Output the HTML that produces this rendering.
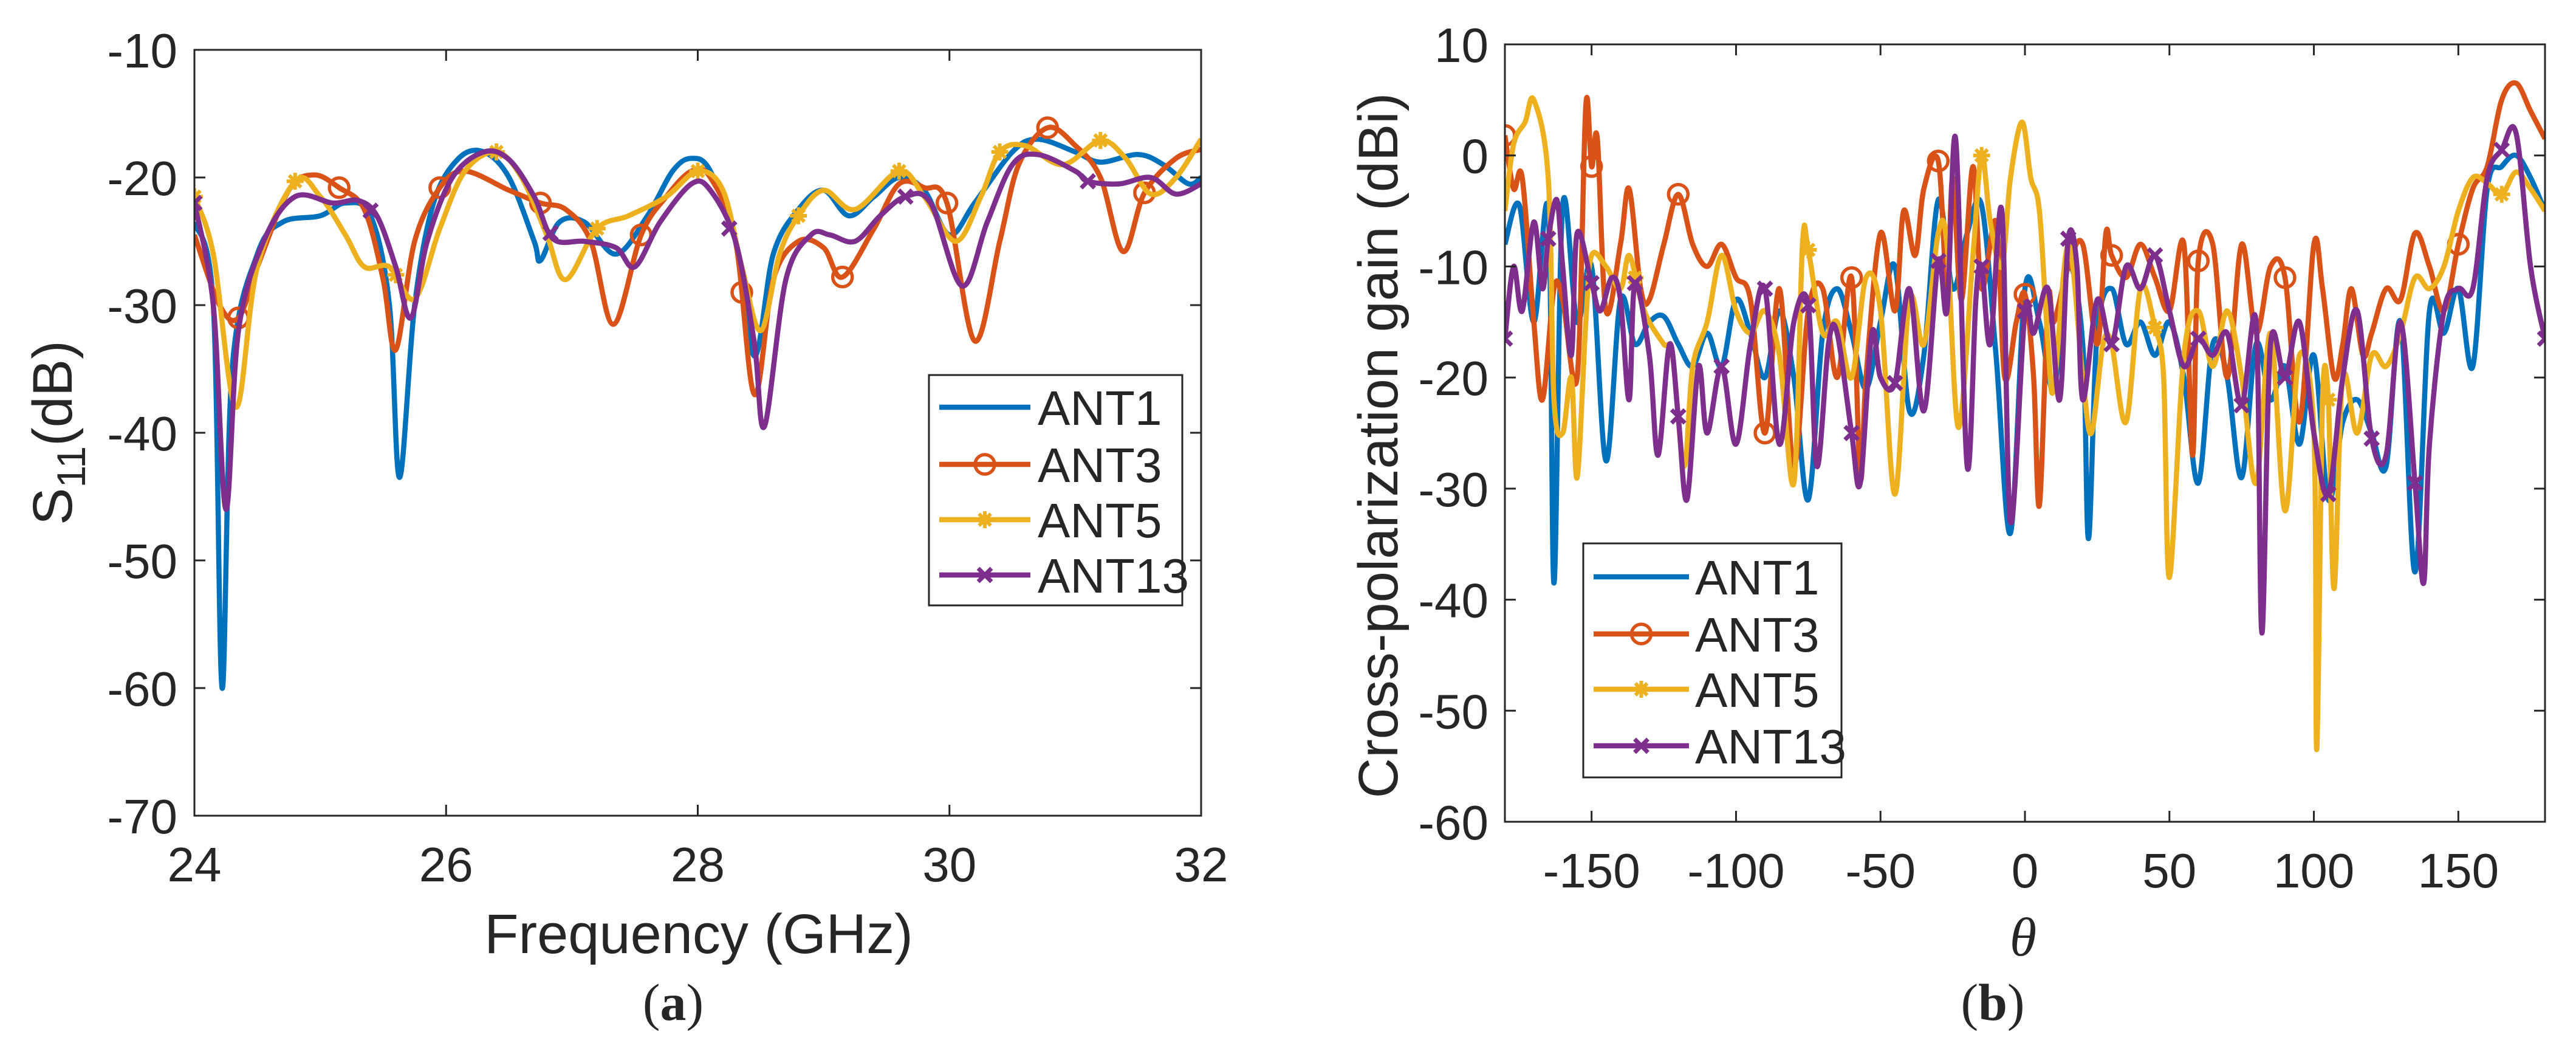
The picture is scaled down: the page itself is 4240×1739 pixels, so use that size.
<!DOCTYPE html>
<html><head><meta charset="utf-8"><style>
html,body{margin:0;padding:0;background:#fff;}
svg{display:block;}
text{font-family:"Liberation Sans",sans-serif;fill:#262626;}
</style></head><body>
<svg id="fig" width="4240" height="1739" viewBox="0 0 4240 1739" xmlns="http://www.w3.org/2000/svg">
<rect width="4240" height="1739" fill="#fff"/>
<g id="chartA"></g>
<g id="chartB"></g>
</svg>
<script>
// ---------- Chart A data ----------
const freqTicks = [24,26,28,30,32];
const s11Ticks = [-10,-20,-30,-40,-50,-60,-70];
const a1x = [24,24.15,24.22,24.3,24.5,24.7,25.0,25.2,25.4,25.55,25.63,25.75,25.9,26.1,26.3,26.5,26.7,26.75,26.9,27.1,27.35,27.6,27.8,27.95,28.1,28.3,28.45,28.6,28.8,29.0,29.2,29.4,29.6,29.8,30.0,30.2,30.5,30.7,31.0,31.2,31.5,31.7,31.9,32];
const a1y = [-23.5,-30,-60,-35,-26,-23.5,-23,-22,-23,-30,-43.5,-30,-22,-18.5,-18,-20,-25,-26.5,-23.5,-23.5,-26,-23,-19.5,-18.5,-19.5,-25,-34,-26,-22.5,-21,-23,-21.5,-20,-21,-24.5,-22,-18,-17,-18,-18.8,-18.2,-19,-20.5,-20];
const a3x = [24,24.2,24.35,24.5,24.75,24.95,25.15,25.35,25.5,25.6,25.75,25.95,26.15,26.5,26.75,26.95,27.15,27.33,27.55,27.75,27.95,28.1,28.3,28.45,28.6,28.8,29.0,29.15,29.4,29.6,29.8,29.98,30.2,30.4,30.55,30.78,31.0,31.2,31.38,31.55,31.8,32];
const a3y = [-24.5,-30,-31,-27,-21,-19.8,-20.8,-22.5,-28,-33.5,-25,-20.8,-19.5,-21,-22,-22.5,-25,-31.5,-24.5,-21.5,-19.5,-20,-25,-37,-28,-25,-25.5,-27.8,-24,-20.5,-20.8,-22,-32.8,-25,-19,-16.1,-17.5,-20,-25.8,-21.2,-18.5,-17.8];
const a5x = [24,24.15,24.33,24.5,24.8,25.0,25.2,25.35,25.55,25.75,25.95,26.15,26.4,26.6,26.8,26.95,27.2,27.45,27.75,28.0,28.2,28.35,28.5,28.65,28.8,29.0,29.25,29.6,29.8,30.05,30.25,30.4,30.6,30.9,31.2,31.4,31.6,31.8,32];
const a5y = [-21.5,-26,-38,-27,-20.3,-21.5,-24.5,-27,-27,-29.5,-24,-19.5,-18,-20,-24.5,-28,-24,-23,-21.5,-19.5,-21,-27,-32,-26,-23,-21,-22.5,-19.5,-21.5,-25,-21.5,-18,-17.5,-19,-17.1,-18.5,-21.3,-20,-17];
const a13x = [24,24.15,24.25,24.35,24.55,24.8,25.1,25.3,25.45,25.6,25.72,25.85,26.05,26.3,26.5,26.7,26.85,27.1,27.35,27.5,27.7,27.95,28.1,28.3,28.45,28.53,28.7,28.9,29.05,29.25,29.45,29.65,29.85,30.1,30.3,30.5,30.7,31.0,31.1,31.35,31.6,31.8,32];
const a13y = [-22,-30,-46,-32,-25,-21.5,-22,-21.8,-23,-27,-31,-25,-20,-18,-18.6,-21.5,-24.8,-25,-25.5,-27,-23.5,-20.5,-21,-25,-33,-39.5,-28,-24.5,-24.5,-25,-23,-21.5,-22,-28.5,-23.5,-19,-18.2,-19.5,-20.3,-20.5,-20,-21.3,-20.5];
const a3mk = [24.35,25.15,25.95,26.75,27.55,28.35,29.15,29.98,30.78,31.55];
const a5mk = [24,24.8,25.6,26.4,27.2,28.0,28.8,29.6,30.4,31.2];
const a13mk = [24,25.4,26.83,28.25,29.65,31.1];

// ---------- Chart B data ----------
const thetaTicks = [-150,-100,-50,0,50,100,150];
const gainTicks = [10,0,-10,-20,-30,-40,-50,-60];
const b1x = [-180,-175,-170,-165,-163,-160,-155,-150,-145,-140,-135,-130,-125,-120,-115,-110,-105,-100,-95,-90,-85,-80,-75,-70,-65,-60,-55,-50,-45,-40,-35,-30,-25,-20,-15,-10,-5,0,5,10,15,20,22,25,30,35,40,45,50,55,60,65,70,75,80,85,90,95,100,105,110,115,120,125,130,135,140,145,150,155,160,165,170,175,180];
const b1y = [-8,-4.5,-15,-5,-38.5,-4.5,-15,-10,-27.5,-13,-17,-15,-14.5,-17,-19,-16,-19,-13,-16,-20,-14,-20,-31,-16,-12,-16,-21,-15,-10,-23,-18,-4,-12,-7,-4.5,-18,-34,-12,-15,-21,-10,-17,-34.5,-16,-12,-17,-15,-18,-15,-20,-29.5,-17,-20,-29,-17,-22,-19,-26,-18,-31,-24,-22,-25,-28,-15,-37.5,-14,-16,-12,-19,-3,-1,0,-2,-5];
const b3x = [-180,-177,-174,-170,-167,-163,-160,-155,-152,-150,-148,-145,-140,-137,-133,-130,-125,-120,-115,-110,-105,-100,-95,-90,-85,-80,-75,-70,-65,-60,-57,-55,-50,-45,-42,-38,-35,-30,-27,-25,-22,-18,-15,-10,-7,-3,0,3,5,8,10,15,20,25,28,30,35,40,45,50,55,58,60,65,70,75,80,85,90,95,100,103,107,110,113,117,120,125,130,135,140,145,150,155,160,165,170,175,180];
const b3y = [1.8,-3,-2,-15,-22,-12,-13,-20,4.5,-1,1.5,-14,-8,-3,-12,-13,-8,-3.5,-8,-10,-8,-11,-13,-25,-12,-28,-14,-12,-20,-11,-29,-20,-7,-14,-5,-9,-3,-0.5,-12,-2,-13,-1,-12,-6,-20,-15,-12.5,-20,-31.5,-13,-15,-10,-8,-17,-7,-9,-11,-8,-11,-14,-8,-27,-9.5,-8,-20,-8,-16,-10,-11,-24,-8,-12,-20,-17,-12,-18,-16,-12,-13,-7,-10,-14,-8,-3,-1,5,6.5,4,1.5];
const b5x = [-180,-177,-173,-170,-165,-163,-160,-157,-155,-152,-150,-145,-140,-137,-133,-130,-125,-122,-118,-115,-110,-105,-100,-95,-90,-85,-80,-77,-75,-70,-65,-60,-55,-50,-45,-40,-35,-30,-27,-23,-18,-15,-12,-8,-5,-1,2,5,8,10,15,20,23,27,30,35,40,45,48,50,55,60,65,70,75,80,85,90,95,100,101,103,105,107,110,115,120,125,130,135,140,145,150,155,160,165,170,175,180];
const b5y = [-5,1,3,5,-2,-22,-25,-20,-29,-15,-9,-10,-12,-9,-13,-15,-17,-18,-28,-19,-15,-9,-14,-16,-14,-18,-29.5,-8,-8.5,-16,-15,-20,-11,-14,-30.5,-13,-17,-7,-8,-24.5,-9,0,-6,-10,-2,3,-2,-5,-17,-21,-8,-20,-25,-17,-17,-24,-12,-15.5,-20,-38,-18,-14,-19,-14,-20,-29.5,-16,-32,-18,-25,-53.5,-22,-22,-39,-20,-25,-18,-19,-16,-11,-12,-10,-5,-2,-2.5,-3.5,-1.5,-3,-5];
const b13x = [-180,-177,-174,-170,-167,-165,-162,-160,-157,-155,-150,-147,-143,-140,-137,-135,-130,-127,-123,-120,-117,-113,-110,-105,-100,-95,-90,-85,-80,-75,-72,-68,-65,-60,-57,-53,-50,-45,-40,-35,-30,-27,-24,-20,-17,-15,-12,-8,-5,0,3,8,12,15,18,20,25,30,35,40,45,50,55,60,65,70,75,80,82,85,90,95,100,105,110,115,120,125,130,135,138,140,145,150,155,160,165,170,175,180];
const b13y = [-16.5,-10,-14,-6,-12,-7.5,-4,-10,-18,-7,-11.5,-14,-11,-13,-22,-11.5,-18,-27,-17,-23.5,-31,-19,-25,-19,-26,-17,-12,-26,-15,-13.5,-28,-17,-16,-25,-29.5,-16,-20,-20.5,-12,-23,-9.5,-14,1.5,-28,-13,-10,-17,-5,-33,-14,-16,-12,-22,-7.5,-10,-22,-13,-17,-10,-12,-9,-14,-19,-16.5,-18,-16,-22.5,-15,-43,-17,-20,-15,-25,-30.5,-20,-14,-25.5,-27,-15,-29.5,-38.5,-26,-14,-12,-12,-2,0.5,2,-10,-16.5];
const b3mk = [-180,-150,-120,-90,-60,-30,0,30,60,90,150];
const b5mk = [-135,-75,-15,45,105,165];
const b13mk = [-180,-165,-150,-135,-120,-105,-90,-75,-60,-45,-30,-15,0,15,30,45,60,75,90,105,120,135,165,180];

const NS = 'http://www.w3.org/2000/svg';
const C = {b:'#0072BD',o:'#D95319',y:'#EDB120',p:'#7E2F8E'};
function mk(tag, attrs, parent){const e=document.createElementNS(NS,tag);for(const k in attrs)e.setAttribute(k,attrs[k]);parent.appendChild(e);return e;}
function interp(xs,ys,x){for(let i=0;i<xs.length-1;i++){if(x>=xs[i]&&x<=xs[i+1]){const t=(x-xs[i])/(xs[i+1]-xs[i]);return ys[i]+t*(ys[i+1]-ys[i]);}}return ys[ys.length-1];}
function smoothPath(pts){let d='M'+pts[0][0].toFixed(1)+','+pts[0][1].toFixed(1);
 for(let i=0;i<pts.length-1;i++){const p0=pts[Math.max(0,i-1)],p1=pts[i],p2=pts[i+1],p3=pts[Math.min(pts.length-1,i+2)];
  const c1=[p1[0]+(p2[0]-p0[0])/6,p1[1]+(p2[1]-p0[1])/6],c2=[p2[0]-(p3[0]-p1[0])/6,p2[1]-(p3[1]-p1[1])/6];
  d+='C'+c1[0].toFixed(1)+','+c1[1].toFixed(1)+' '+c2[0].toFixed(1)+','+c2[1].toFixed(1)+' '+p2[0].toFixed(1)+','+p2[1].toFixed(1);}
 return d;}
function drawMarker(g,type,x,y,col,sz){
 if(type==='o'){const m=mk('circle',{cx:x,cy:y,r:16,fill:'none',stroke:col,'stroke-width':5.5},g);}
 else if(type==='*'){const m=mk('path',{d:`M${x-sz},${y}H${x+sz}M${x},${y-sz}V${y+sz}M${x-sz*.7},${y-sz*.7}L${x+sz*.7},${y+sz*.7}M${x-sz*.7},${y+sz*.7}L${x+sz*.7},${y-sz*.7}`,stroke:col,'stroke-width':6,fill:'none'},g);}
 else {const s=11;const m=mk('path',{d:`M${x-s},${y-s}L${x+s},${y+s}M${x-s},${y+s}L${x+s},${y-s}`,stroke:col,'stroke-width':7,fill:'none'},g);}
}
function chart(g,o){
 const X=v=>o.x0+(v-o.xmin)/(o.xmax-o.xmin)*(o.x1-o.x0);
 const Y=v=>o.y0+(o.ymax-v)/(o.ymax-o.ymin)*(o.y1-o.y0);
 const clip='clip'+o.id;
 const cp=mk('clipPath',{id:clip},g);mk('rect',{x:o.x0,y:o.y0,width:o.x1-o.x0,height:o.y1-o.y0},cp);
 o.series.forEach(s=>{
  const sg=mk('g',{'clip-path':`url(#${clip})`},g);
  
  
  const pts=s.x.map((v,i)=>[X(v),Y(s.y[i])]);
  const p=mk('path',{d:smoothPath(pts),fill:'none',stroke:s.c,'stroke-width':8.5,'stroke-linejoin':'round'},sg);
  
  
  if(s.mk) s.mk.forEach(m=>drawMarker(sg,s.m,X(m),Y(interp(s.x,s.y,m)),s.c,14));
 });
 const ax=mk('rect',{x:o.x0,y:o.y0,width:o.x1-o.x0,height:o.y1-o.y0,fill:'none',stroke:'#262626','stroke-width':3},g);
 
 o.xt.forEach(v=>{const x=X(v);
  mk('path',{d:`M${x},${o.y1}v-18M${x},${o.y0}v18`,stroke:'#262626','stroke-width':3},g);
  const t=mk('text',{x:x,y:o.xtBase,'font-size':80,'text-anchor':'middle'},g);t.textContent=v;
  });
 o.yt.forEach(v=>{const y=Y(v);
  mk('path',{d:`M${o.x0},${y}h18M${o.x1},${y}h-18`,stroke:'#262626','stroke-width':3},g);
  const t=mk('text',{x:o.ytRight,y:y+29,'font-size':80,'text-anchor':'end'},g);t.textContent=v;
  });
 const L=o.leg;const lg=mk('g',{},g);
 
 const lb=mk('rect',{x:L.x,y:L.y,width:L.w,height:L.h,fill:'#fff',stroke:'#262626','stroke-width':3},lg);
 
 o.series.forEach((s,i)=>{const yy=L.rows[i];
  const e=mk('g',{},lg);
  
  
  mk('line',{x1:L.l0,x2:L.l1,y1:yy,y2:yy,stroke:s.c,'stroke-width':8.5},e);
  if(s.m) drawMarker(e,s.m,(L.l0+L.l1)/2,yy,s.c,14);
  const t=mk('text',{x:L.tx,y:yy+29,'font-size':80},e);t.textContent=s.name;});
}
chart(document.getElementById('chartA'),{id:'A',x0:320,x1:1977,y0:82,y1:1342,xmin:24,xmax:32,ymin:-70,ymax:-10,
 xt:freqTicks,yt:s11Ticks,xtBase:1450,ytRight:292,
 series:[{name:'ANT1',c:C.b,x:a1x,y:a1y},{name:'ANT3',c:C.o,x:a3x,y:a3y,m:'o',mk:a3mk},{name:'ANT5',c:C.y,x:a5x,y:a5y,m:'*',mk:a5mk},{name:'ANT13',c:C.p,x:a13x,y:a13y,m:'x',mk:a13mk}],
 leg:{x:1529,y:617,w:417,h:379,rows:[670,764,855,946],l0:1546,l1:1696,tx:1708}});
chart(document.getElementById('chartB'),{id:'B',x0:2477,x1:4189,y0:73,y1:1352,xmin:-180,xmax:180,ymin:-60,ymax:10,
 xt:thetaTicks,yt:gainTicks,xtBase:1460,ytRight:2450,
 series:[{name:'ANT1',c:C.b,x:b1x,y:b1y},{name:'ANT3',c:C.o,x:b3x,y:b3y,m:'o',mk:b3mk},{name:'ANT5',c:C.y,x:b5x,y:b5y,m:'*',mk:b5mk},{name:'ANT13',c:C.p,x:b13x,y:b13y,m:'x',mk:b13mk}],
 leg:{x:2606,y:894,w:425,h:385,rows:[949,1043,1134,1227],l0:2623,l1:2780,tx:2790}});
</script>
<svg style="position:absolute;left:0;top:0" width="4240" height="1739" xmlns="http://www.w3.org/2000/svg">
<text x="1150" y="1568" font-size="92" text-anchor="middle">Frequency (GHz)</text>
<text transform="translate(118,712) rotate(-90)" font-size="92" text-anchor="middle">S<tspan font-size="66" dy="22">11</tspan><tspan dy="-22">(dB)</tspan></text>
<text x="1108" y="1678" font-size="86" text-anchor="middle" style="font-family:'Liberation Serif',serif">(<tspan font-weight="bold">a</tspan>)</text>
<text x="3330" y="1572" font-size="90" text-anchor="middle" font-style="italic" style="font-family:'Liberation Serif',serif">θ</text>
<text transform="translate(2300,733) rotate(-90)" font-size="92" text-anchor="middle">Cross-polarization gain (dBi)</text>
<text x="3280" y="1678" font-size="86" text-anchor="middle" style="font-family:'Liberation Serif',serif">(<tspan font-weight="bold">b</tspan>)</text>
</svg>
</body></html>
